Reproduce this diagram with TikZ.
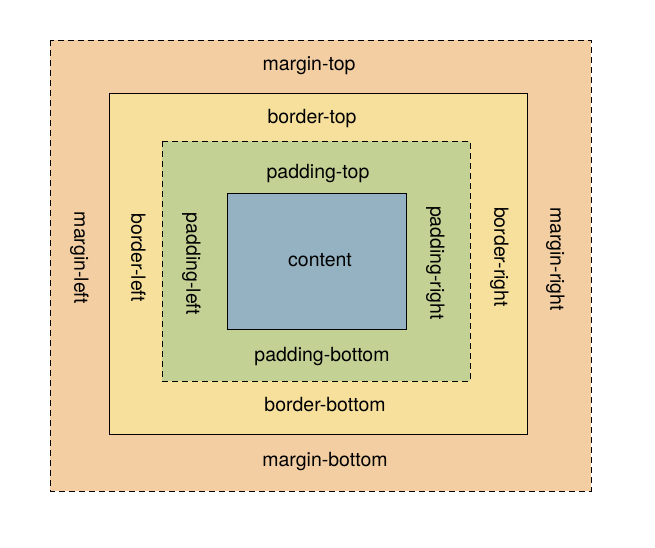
\documentclass[tikz,border=0pt]{standalone}
\usepackage{fontspec}
\setmainfont{TeX Gyre Heros}
\definecolor{marginclr}{HTML}{F2CEA2}
\definecolor{borderclr}{HTML}{F6E09C}
\definecolor{paddingclr}{HTML}{C4D194}
\definecolor{contentclr}{HTML}{94B2C1}
\tikzset{
  lbl/.style={font=\fontsize{19.5}{23}\selectfont, text height=0.72em, text depth=0.2em, inner sep=0pt},
  vlbl/.style={lbl, rotate=-90},
  dashbox/.style={draw=black, line width=1pt, dash pattern=on 6pt off 4pt},
  solidbox/.style={draw=black, line width=1pt}
}
\begin{document}
\begin{tikzpicture}[x=1pt,y=-1pt]
 \useasboundingbox (0,0) rectangle (655,547);
 \fill[white] (0,0) rectangle (655,547);
 % boxes
 \draw[dashbox,fill=marginclr](50,40) rectangle (591,491);
 \draw[solidbox,fill=borderclr](109,93) rectangle (527,434);
 \draw[dashbox,fill=paddingclr](162,141) rectangle (470,381);
 \draw[solidbox,fill=contentclr](227,193) rectangle (406,329);
 % labels
 \node[lbl] (mtop) at (309,68) {margin-top};
 \node[lbl] (btop) at (312,121) {border-top};
 \node[lbl] (ptop) at (318,176) {padding-top};
 \node[lbl] (cont) at (320,264) {content};
 \node[lbl] (pbot) at (322,359) {padding-bottom};
 \node[lbl] (bbot) at (325,409) {border-bottom};
 \node[lbl] (mbot) at (325,464) {margin-bottom};
 \node[vlbl] (mleft) at (77,258) {margin-left};
 \node[vlbl] (bleft) at (134,258) {border-left};
 \node[vlbl] (pleft) at (189,264) {padding-left};
 \node[vlbl] (pright) at (433,263) {padding-right};
 \node[vlbl] (bright) at (497,257) {border-right};
 \node[vlbl] (mright) at (553,259) {margin-right};
\end{tikzpicture}
\end{document}
